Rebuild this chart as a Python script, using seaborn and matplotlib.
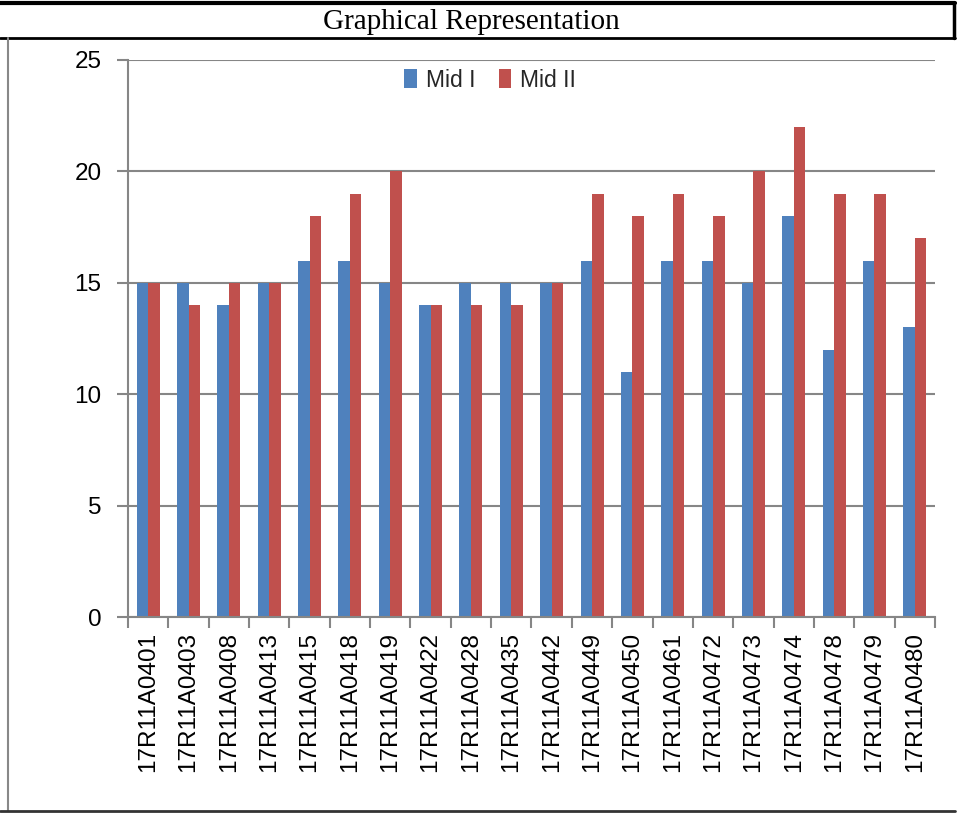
import matplotlib
matplotlib.use("Agg")
import matplotlib.pyplot as plt
import seaborn as sns
import pandas as pd
from matplotlib.lines import Line2D
from matplotlib.ticker import FixedLocator

students = ["17R11A0401", "17R11A0403", "17R11A0408", "17R11A0413", "17R11A0415",
            "17R11A0418", "17R11A0419", "17R11A0422", "17R11A0428", "17R11A0435",
            "17R11A0442", "17R11A0449", "17R11A0450", "17R11A0461", "17R11A0472",
            "17R11A0473", "17R11A0474", "17R11A0478", "17R11A0479", "17R11A0480"]
mid1 = [15, 15, 14, 15, 16, 16, 15, 14, 15, 15, 15, 16, 11, 16, 16, 15, 18, 12, 16, 13]
mid2 = [15, 14, 15, 15, 18, 19, 20, 14, 14, 14, 15, 19, 18, 19, 18, 20, 22, 19, 19, 17]
series_names = ["Mid I", "Mid II"]
colors = ["#4F81BD", "#C0504D"]
y_ticks = [0, 5, 10, 15, 20, 25]

df = pd.DataFrame({
    "student": students * 2,
    "score": mid1 + mid2,
    "exam": [series_names[0]] * len(students) + [series_names[1]] * len(students),
})

sns.set_theme(style="white")
plt.rcParams["font.family"] = ["Liberation Sans", "DejaVu Sans"]

fig = plt.figure(figsize=(9.62, 8.14), dpi=100)
ax = fig.add_axes([128 / 962, 1 - 617 / 814, (935 - 128) / 962, (617 - 60) / 814])

sns.barplot(data=df, x="student", y="score", hue="exam", palette=colors,
            width=0.57, saturation=1, ax=ax, linewidth=0, legend=True)

ax.set_xlim(-0.5, len(students) - 0.5)
ax.set_ylim(0, 25)
ax.set_yticks(y_ticks)
ax.set_yticklabels([str(v) for v in y_ticks], fontsize=17.5, color="#000000")
ax.set_xticks(range(len(students)))
ax.set_xticklabels(students, rotation=90, fontsize=17.5, color="#000000")
ax.xaxis.set_minor_locator(FixedLocator([i - 0.5 for i in range(len(students) + 1)]))
ax.tick_params(axis="x", which="major", length=0, pad=11)
ax.tick_params(axis="x", which="minor", length=8, width=1.5, color="#868686", direction="out", bottom=True)
ax.tick_params(axis="y", length=8, width=1.5, color="#868686", direction="out", left=True, pad=11)
for lbl in ax.get_yticklabels():
    lbl.set_verticalalignment("center_baseline")
ax.set_xlabel("")
ax.set_ylabel("")
ax.yaxis.grid(True, color="#868686", linewidth=1.5)
ax.set_axisbelow(True)
for s in ["top", "right"]:
    ax.spines[s].set_visible(False)
for s in ["left", "bottom"]:
    ax.spines[s].set_color("#868686")
    ax.spines[s].set_linewidth(1.5)

handles, labels = ax.get_legend_handles_labels()
ax.legend(handles, labels, loc="center", bbox_to_anchor=(0.449, 0.964), ncol=2,
          frameon=False, fontsize=16.5, handlelength=0.55, handleheight=0.9,
          handletextpad=0.4, columnspacing=1.0)

# Table-like frame
fig.add_artist(Line2D([0, 955 / 962], [1 - 3 / 814, 1 - 3 / 814], color="black", lw=3))
fig.add_artist(Line2D([0, 955 / 962], [1 - 38 / 814, 1 - 38 / 814], color="black", lw=2))
fig.add_artist(Line2D([954 / 962, 954 / 962], [1 - 3 / 814, 1 - 38 / 814], color="black", lw=2.5))
fig.add_artist(Line2D([8 / 962, 8 / 962], [1 - 38 / 814, 1 - 811 / 814], color="#888888", lw=1.5))
fig.add_artist(Line2D([0, 955 / 962], [1 - 811 / 814, 1 - 811 / 814], color="#333333", lw=2))
fig.text(471 / 962, 1 - 22 / 814, "Graphical Representation", ha="center", va="center",
         fontsize=21, family=["Liberation Serif", "DejaVu Serif"], color="black")

fig.savefig("out.png", dpi=100)
